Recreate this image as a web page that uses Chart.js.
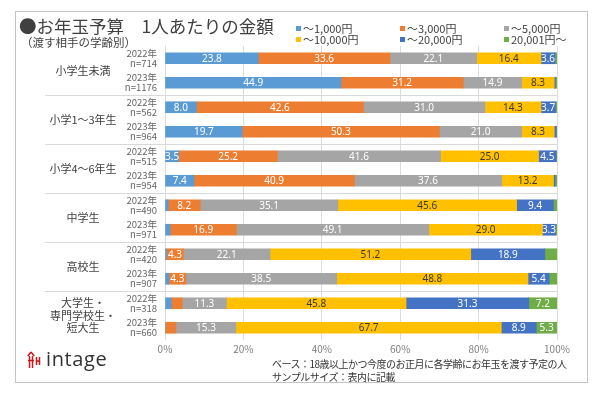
<!DOCTYPE html>
<html lang="ja">
<head>
<meta charset="utf-8">
<title>お年玉予算 1人あたりの金額</title>
<script src="https://cdn.jsdelivr.net/npm/chart.js@4"></script>
<style>
  html, body { margin: 0; padding: 0; background: #fff; }
  body { width: 600px; height: 400px; position: relative; overflow: hidden;
         font-family: "Noto Sans CJK JP", "Noto Sans", sans-serif; color: #404040; }
  #frame { position: absolute; left: 15px; top: 11px; width: 573px; height: 372px;
           border: 1px solid #c4c4c4; box-sizing: border-box; }
  #chartWrap { position: absolute; left: 0; top: 0; width: 600px; height: 400px; }
  .title { position: absolute; left: 19px; top: 13px; font-size: 17.5px; white-space: nowrap; }
  .subtitle { position: absolute; left: 21px; top: 34px; font-size: 11.5px; white-space: nowrap; }
  #legend { position: absolute; left: 296px; top: 22px; width: 290px; font-size: 11px; }
  #legend .item { position: absolute; white-space: nowrap; line-height: 12px; }
  #legend .box { display: inline-block; width: 5px; height: 5px; margin-right: 2px; vertical-align: 2px; }
  .logo { position: absolute; left: 27px; top: 350px; height: 20px; white-space: nowrap; }
  .logo span { font-family: "Open Sans", "Noto Sans", sans-serif; font-size: 20px; color: #333;
               position: absolute; left: 19px; top: -5px; letter-spacing: 0.6px; }
  .note { position: absolute; left: 272px; top: 358px; font-size: 10px; line-height: 12.5px;
          letter-spacing: -0.5px; white-space: nowrap; color: #333; }
</style>
</head>
<body>
<div id="frame"></div>
<div id="chartWrap"><canvas id="nenChart" width="600" height="400"></canvas></div>
<div class="title">●お年玉予算　1人あたりの金額</div>
<div class="subtitle">（渡す相手の学齢別）</div>
<div id="legend"></div>
<div class="logo">
  <svg width="14" height="18" viewBox="0 0 14 18">
    <g stroke="#c8161d" stroke-width="1.5" fill="none">
      <path d="M4 1 L0.8 5 M4 1 L7.2 5"/>
      <path d="M2.5 5 L2.5 17 M5.5 5 L5.5 17 M1 9.5 L7 9.5"/>
      <path d="M9.5 6 L9.5 14 M12.5 6 L12.5 14 M9.5 10 L12.5 10"/>
    </g>
  </svg>
  <span>intage</span>
</div>
<div class="note">ベース：18歳以上かつ今度のお正月に各学齢にお年玉を渡す予定の人<br>サンプルサイズ：表内に記載</div>

<script>
// ===== データ =====
const groups = ["小学生未満", "小学1～3年生", "小学4～6年生", "中学生", "高校生", "大学生・\n専門学校生・\n短大生"];
const years = ["2022年", "2023年"];
const sampleSizes = [714, 1176, 562, 964, 515, 954, 490, 971, 420, 907, 318, 660];

const seriesNames = ["～1,000円", "～3,000円", "～5,000円", "～10,000円", "～20,000円", "20,001円～"];
const seriesColors = ["#5b9bd5", "#ed7d31", "#a5a5a5", "#ffc000", "#4472c4", "#70ad47"];

const upTo1000  = [23.8, 44.9, 8.0, 19.7, 3.5, 7.4, 0.8, 1.3, 0.4, 1.0, 1.6, 0.0];
const upTo3000  = [33.6, 31.2, 42.6, 50.3, 25.2, 40.9, 8.2, 16.9, 4.3, 4.3, 2.8, 2.8];
const upTo5000  = [22.1, 14.9, 31.0, 21.0, 41.6, 37.6, 35.1, 49.1, 22.1, 38.5, 11.3, 15.3];
const upTo10000 = [16.4, 8.3, 14.3, 8.3, 25.0, 13.2, 45.6, 29.0, 51.2, 48.8, 45.8, 67.7];
const upTo20000 = [3.6, 0.3, 3.7, 0.5, 4.5, 0.4, 9.4, 3.3, 18.9, 5.4, 31.3, 8.9];
const over20000 = [0.5, 0.4, 0.4, 0.2, 0.2, 0.5, 0.9, 0.4, 3.1, 2.0, 7.2, 5.3];

const xTicks = [0, 20, 40, 60, 80, 100];

// 行ラベル: ["2022年", "n=714"] の2行
const rowLabels = sampleSizes.map((n, i) => [years[i % 2], "n=" + n]);

// ===== プラグイン =====
// 学齢グループの区切り線と名前
const groupPlugin = {
  id: "groupLabels",
  afterDraw(chart) {
    const ctx = chart.ctx;
    const y = chart.scales.y;
    const area = chart.chartArea;
    ctx.save();
    ctx.strokeStyle = "#d9d9d9";
    ctx.lineWidth = 1;
    for (let i = 1; i < rowLabels.length - 1; i += 2) {
      const yy = Math.round((y.getPixelForValue(i) + y.getPixelForValue(i + 1)) / 2) + 0.5;
      ctx.beginPath();
      ctx.moveTo(45, yy);
      ctx.lineTo(area.right, yy);
      ctx.stroke();
    }
    ctx.fillStyle = "#404040";
    ctx.font = "11px 'Noto Sans CJK JP'";
    ctx.textAlign = "center";
    ctx.textBaseline = "middle";
    groups.forEach((g, gi) => {
      const cy = (y.getPixelForValue(gi * 2) + y.getPixelForValue(gi * 2 + 1)) / 2;
      const lines = g.split("\n");
      const lh = 12.5;
      lines.forEach((ln, li) => {
        ctx.fillText(ln, 83, cy + (li - (lines.length - 1) / 2) * lh);
      });
    });
    ctx.restore();
  },
};

// 棒の中の数値 (3%未満は表示しない)
const valuePlugin = {
  id: "valueLabels",
  afterDatasetsDraw(chart) {
    const ctx = chart.ctx;
    ctx.save();
    ctx.font = "10px 'Noto Sans', 'Noto Sans CJK JP'";
    ctx.textAlign = "center";
    ctx.textBaseline = "middle";
    chart.data.datasets.forEach((ds, di) => {
      const meta = chart.getDatasetMeta(di);
      ctx.fillStyle = di === 3 ? "#3a3a3a" : "#ffffff";
      meta.data.forEach((bar, i) => {
        const v = ds.data[i];
        if (v < 3.2) return;
        const p = bar.getCenterPoint();
        ctx.fillText(v.toFixed(1), p.x, p.y + 0.5);
      });
    });
    ctx.restore();
  },
};

// ===== 凡例 (HTML) =====
function buildLegend() {
  const box = document.getElementById("legend");
  const colX = [0, 104, 208];
  seriesNames.forEach((name, i) => {
    const el = document.createElement("div");
    el.className = "item";
    el.style.left = colX[i % 3] + "px";
    el.style.top = Math.floor(i / 3) * 11 + "px";
    el.innerHTML = '<span class="box" style="background:' + seriesColors[i] + '"></span>' + name;
    box.appendChild(el);
  });
}

document.addEventListener("DOMContentLoaded", () => {
  buildLegend();

  Chart.defaults.font.family = "'Noto Sans CJK JP', 'Noto Sans', sans-serif";

  const values = [upTo1000, upTo3000, upTo5000, upTo10000, upTo20000, over20000];
  const datasets = values.map((arr, i) => ({
    label: seriesNames[i],
    data: arr,
    backgroundColor: seriesColors[i],
    borderWidth: 0,
    barThickness: 11,
  }));

  new Chart(document.getElementById("nenChart"), {
    type: "bar",
    data: { labels: rowLabels, datasets },
    options: {
      indexAxis: "y",
      responsive: false,
      animation: false,
      layout: { padding: { top: 46, right: 43, bottom: 0, left: 0 } },
      plugins: {
        legend: { display: false },
        tooltip: { enabled: false },
      },
      scales: {
        x: {
          stacked: true,
          min: 0,
          max: 100,
          afterBuildTicks: (s) => { s.ticks = xTicks.map((v) => ({ value: v })); },
          afterFit: (s) => { s.height = 60; },
          grid: { color: "#dcdcdc", drawTicks: false },
          border: { display: false },
          ticks: {
            padding: 3,
            color: "#7f7f7f",
            font: { size: 10 },
            callback: (v) => v + "%",
          },
        },
        y: {
          stacked: true,
          afterFit: (s) => { s.width = 165; },
          grid: { display: false, drawTicks: false },
          border: { display: false },
          ticks: {
            padding: 8,
            color: "#666666",
            font: { size: 9.5, lineHeight: 1.05 },
          },
        },
      },
    },
    plugins: [groupPlugin, valuePlugin],
  });
});
</script>
</body>
</html>
